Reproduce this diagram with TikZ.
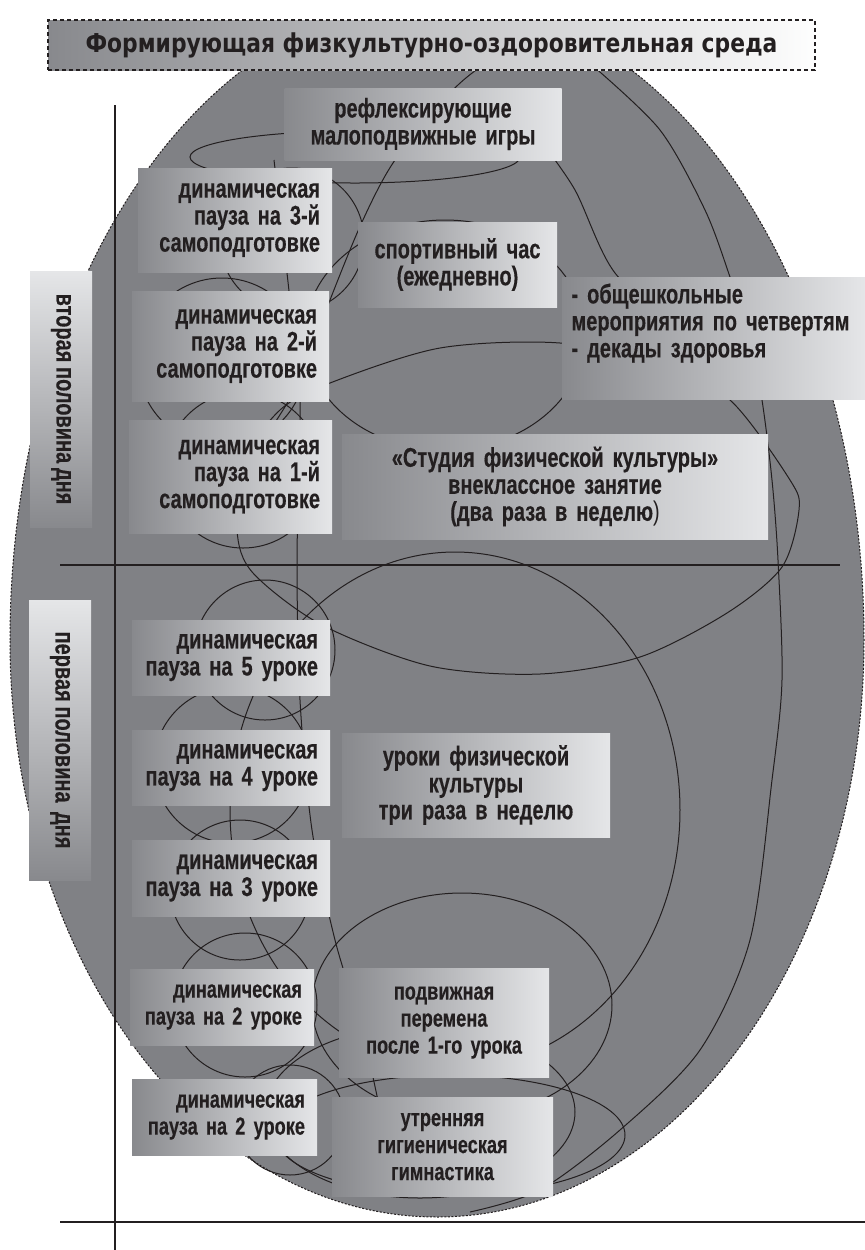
\documentclass[tikz,border=0pt]{standalone}
\usepackage{fontspec}
\setmainfont{Liberation Sans}[FakeStretch=0.74, WordSpace=0.85, BoldFeatures={FakeBold=0.3}]
\newfontfamily\titlefont{DejaVu Sans}[FakeStretch=0.84]
\usetikzlibrary{positioning}
\definecolor{fon}{RGB}{128,129,133}
\definecolor{boxl}{RGB}{136,137,141}
\definecolor{boxr}{RGB}{229,230,232}
\definecolor{ink}{RGB}{35,31,32}
\tikzstyle{plashka} = [left color=boxl, right color=boxr, text=ink, font=\fontsize{13.5}{13.5}\selectfont\bfseries, inner xsep=7pt, inner ysep=0pt]
\tikzstyle{melko} = [font=\fontsize{12.3}{13.5}\selectfont\bfseries]
\tikzstyle{pauza} = [plashka, align=right, inner xsep=6pt, text width=87pt]
\tikzstyle{forma} = [plashka, align=center]
\tikzstyle{polovina} = [top color=boxr, bottom color=boxl, text=ink, font=\fontsize{13.5}{13.5}\selectfont\bfseries, rotate=-90, minimum height=31pt, inner sep=0pt]
\tikzstyle{zagolovok} = [left color=boxl, right color=white!95!boxr, draw=ink, line width=0.6pt, dash pattern=on 2pt off 1.5pt, minimum width=383.5pt, minimum height=25pt, text=ink, font=\titlefont\fontsize{13}{15}\selectfont\bfseries]
\tikzstyle{kontur} = [draw=ink, line width=0.5pt]
\tikzstyle{os} = [draw=ink, line width=0.8pt]

\begin{document}
\begin{tikzpicture}[x=0.5pt, y=-0.5pt]
	\useasboundingbox (0,0) rectangle (865,1250);
	% egg-shaped background
	\begin{scope}
		\clip (0,21) rectangle (865,1250);
		\path[fill=fon, draw=ink, line width=0.5pt, dash pattern=on 1pt off 0.8pt]
			(10,640) arc[start angle=180, end angle=360, x radius=427, y radius=640]
			arc[start angle=0, end angle=180, x radius=427, y radius=577] -- cycle;
	\end{scope}

	% tangled lines
	\draw[kontur] (355,157) ellipse [x radius=165, y radius=26];
	\draw[kontur] (292,240) circle [radius=72];
	\draw[kontur] (222,362) circle [radius=84];
	\draw[kontur] (243,470) circle [radius=78];
	\draw[kontur] (265,650) circle [radius=70];
	\draw[kontur] (232,765) circle [radius=78];
	\draw[kontur] (240,890) circle [radius=70];
	\draw[kontur] (245,1005) circle [radius=72];
	\draw[kontur] (290,1120) circle [radius=55];
	\draw[kontur] (445,335) ellipse [x radius=140, y radius=115];
	\draw[kontur] (455,810) ellipse [x radius=225, y radius=258];
	\draw[kontur] (462,1005) ellipse [x radius=150, y radius=112];
	\draw[kontur] (450,1135) ellipse [x radius=175, y radius=60];
	\draw[kontur] (420,1112) ellipse [x radius=155, y radius=86];
	\draw[kontur] plot[smooth cycle] coordinates {(330,383) (440,348) (560,343) (660,365) (730,400) (790,480) (799,510) (782,567) (727,613) (640,657) (540,674) (430,666) (322,625) (253,573) (237,530) (245,460) (280,410)};
	\draw[kontur] plot[smooth] coordinates {(482,66) (453,90) (395,160) (362,222) (330,300) (300,380) (270,430)};
	\draw[kontur] plot[smooth] coordinates {(593,66) (660,130) (705,210) (730,277) (750,340) (762,400) (772,480) (778,560) (782,680) (772,780) (750,940) (700,1050) (620,1130) (540,1190) (470,1212)};
	\draw[kontur] plot[smooth] coordinates {(540,140) (575,190) (615,273) (690,340)};
	\draw[kontur] plot[smooth] coordinates {(274,160) (290,300) (300,401) (297,560) (300,700) (312,830) (335,940) (362,1030) (380,1110)};

	% axes
	\draw[os] (115,105) -- (115,1250);
	\draw[os] (60,565) -- (840,565);
	\draw[os] (60,1222) -- (865,1222);

	\node[zagolovok] (titul) at (431.5,45) {Формирующая физкультурно-оздоровительная среда};

	\node[polovina, minimum width=128pt] (vtoraya) at (61,399) {вторая половина дня};
	\node[polovina, minimum width=140pt] (pervaya) at (60,740) {первая половина\ \ дня};

	% second half of the day
	\node[forma, text width=124.5pt, minimum height=36pt] (refleks) at (423,124) {рефлексирующие\\малоподвижные игры};
	\node[pauza, text width=85pt, minimum height=52pt] (sam3) at (235,220) {динамическая\\пауза на 3-й\\самоподготовке};
	\node[forma, text width=85.5pt, minimum height=42.5pt] (sport) at (457.5,264.5) {спортивный час\\(ежедневно)};
	\node[plashka, align=left, inner xsep=4.75pt, text width=142pt, minimum height=61pt] (obsh) at (713.5,338) {- общешкольные\\мероприятия по четвертям\\- декады здоровья\\ \strut};
	\node[pauza, text width=86.5pt, minimum height=55pt] (sam2) at (230.5,346) {динамическая\\пауза на 2-й\\самоподготовке};
	\node[pauza, text width=89.5pt, minimum height=56.5pt] (sam1) at (230.5,476.5) {динамическая\\пауза на 1-й\\самоподготовке};
	\node[forma, text width=199pt, minimum height=52.5pt] (studiya) at (555,486.5) {«Студия физической культуры»\\внеклассное занятие\\(два раза в неделю{\mdseries)}};

	% first half of the day
	\node[pauza, minimum height=37.5pt] (urok5) at (231,657.5) {динамическая\\пауза на 5 уроке};
	\node[pauza, minimum height=37.5pt] (urok4) at (231,767.5) {динамическая\\пауза на 4 уроке};
	\node[forma, text width=120pt, minimum height=52pt] (fizra) at (476,785) {уроки физической\\культуры\\три раза в неделю};
	\node[pauza, minimum height=38pt] (urok3) at (231,878) {динамическая\\пауза на 3 уроке};
	\node[pauza, melko, text width=80pt, minimum height=38pt] (urok2a) at (222,1007) {динамическая\\пауза на 2 уроке};
	\node[forma, melko, text width=91pt, minimum height=54.5pt] (peremena) at (444,1022.5) {подвижная\\перемена\\после 1-го урока};
	\node[pauza, melko, text width=80.5pt, minimum height=38pt] (urok2b) at (224.5,1117) {динамическая\\пауза на 2 уроке};
	\node[forma, melko, text width=96.5pt, minimum height=49.5pt] (zaryadka) at (442.5,1146.5) {утренняя\\гигиеническая\\гимнастика};
\end{tikzpicture}
\end{document}
